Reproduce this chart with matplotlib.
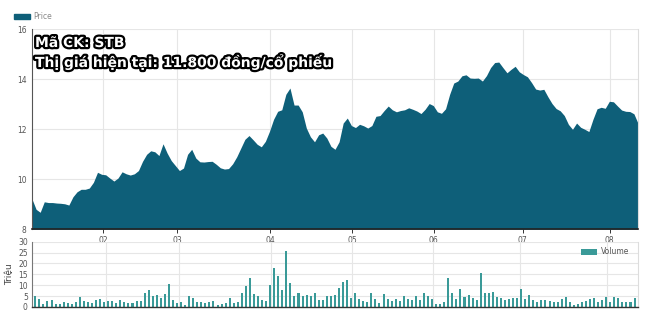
import matplotlib
matplotlib.use("Agg")
import matplotlib.pyplot as plt
import matplotlib.patheffects as pe
import numpy as np

# ---- data ----
price = [9.21, 8.8, 8.68, 9.1, 9.07, 9.07, 9.05, 9.04, 9.02, 8.97,
         9.3, 9.5, 9.6, 9.6, 9.65, 9.88, 10.28, 10.2, 10.18, 10.05,
         9.93, 10.05, 10.3, 10.22, 10.17, 10.22, 10.35, 10.72, 11.0, 11.14,
         11.1, 10.95, 11.42, 11.05, 10.75, 10.55, 10.35, 10.45, 11.0, 11.2,
         10.85, 10.7, 10.69, 10.71, 10.72, 10.6, 10.46, 10.41, 10.43, 10.62,
         10.9, 11.25, 11.6, 11.75, 11.58, 11.4, 11.3, 11.52, 11.92, 12.4,
         12.72, 12.78, 13.4, 13.65, 12.97, 12.97, 12.7, 12.05, 11.7, 11.5,
         11.78, 11.85, 11.65, 11.32, 11.2, 11.5, 12.25, 12.45, 12.15, 12.07,
         12.2, 12.14, 12.05, 12.15, 12.52, 12.55, 12.75, 12.93, 12.78, 12.7,
         12.75, 12.78, 12.86, 12.8, 12.73, 12.63, 12.8, 13.03, 12.95, 12.7,
         12.64, 12.82, 13.4, 13.85, 13.93, 14.14, 14.18, 14.05, 14.04, 14.05,
         13.93, 14.15, 14.47, 14.67, 14.69, 14.47, 14.26, 14.4, 14.52, 14.3,
         14.19, 14.1, 13.87, 13.61, 13.57, 13.6, 13.3, 13.03, 12.83, 12.74,
         12.55, 12.2, 12.0, 12.25, 12.08, 12.0, 11.91, 12.4, 12.82, 12.88,
         12.84, 13.12, 13.1, 12.93, 12.77, 12.72, 12.71, 12.62, 12.24]

volume = [5.0, 3.5, 1.4, 2.8, 3.0, 1.4, 1.4, 2.1, 2.0, 1.4,
          2.4, 4.6, 2.8, 2.1, 2.0, 3.1, 3.5, 2.4, 2.8, 2.8,
          1.8, 3.1, 2.4, 1.7, 2.0, 2.8, 2.8, 6.3, 7.7, 5.0,
          5.4, 4.0, 5.8, 10.4, 3.2, 2.0, 2.3, 0.8, 5.0, 4.3,
          2.4, 2.4, 1.7, 2.1, 2.8, 0.8, 1.2, 2.0, 4.0, 1.7,
          2.4, 6.3, 9.6, 13.5, 6.0, 5.0, 3.2, 2.9, 10.0, 18.1,
          14.2, 7.8, 25.9, 10.9, 5.0, 6.6, 5.0, 5.5, 5.0, 6.6,
          3.2, 3.2, 5.0, 5.0, 5.4, 8.6, 11.5, 12.4, 4.3, 6.6,
          3.5, 2.8, 2.4, 6.6, 3.5, 2.0, 5.8, 3.5, 2.8, 3.5,
          2.8, 5.0, 3.5, 3.1, 5.0, 3.2, 6.6, 5.0, 3.5, 1.4,
          1.4, 2.4, 13.5, 6.3, 3.5, 8.1, 4.7, 5.5, 4.0, 3.2,
          15.5, 6.6, 6.6, 7.0, 4.7, 4.0, 3.2, 3.5, 4.3, 4.3,
          8.1, 3.5, 5.4, 3.1, 2.4, 3.1, 3.1, 2.8, 2.1, 2.4,
          3.5, 4.6, 2.4, 1.1, 1.4, 2.1, 2.8, 3.5, 4.3, 2.1,
          3.2, 4.7, 2.1, 4.6, 4.0, 2.4, 2.4, 2.4, 4.0]

month_labels = ["02", "03", "04", "05", "06", "07", "08"]
month_pos = [17.4, 35.4, 58.1, 78.2, 98.1, 119.8, 141.1]   # trading-day index of month start

price_ticks = [8, 10, 12, 14, 16]
volume_ticks = [0, 5, 10, 15, 20, 25, 30]

title1 = "Mã CK: STB"
title2 = "Thị giá hiện tại: 11.800 đồng/cổ phiếu"

# ---- style ----
AREA = "#0e5f79"
BAR = "#3a9a98"
GRID = "#e6e6e6"
TXT = "#555555"

fig = plt.figure(figsize=(6.6, 3.35), dpi=100)
W, H = 660.0, 335.0

def box(l, t, r, b):
    return [l / W, 1 - b / H, (r - l) / W, (b - t) / H]

x_p = np.arange(len(price))
x_v = np.arange(len(volume))

# ---- price axes ----
ax = fig.add_axes(box(32, 29.3, 638, 229.3))
ax.fill_between(x_p, price, 8, color=AREA, lw=0, zorder=2)
ax.set_xlim(0, len(price) - 1)
ax.set_ylim(8, 16)
ax.set_yticks(price_ticks)
ax.set_yticklabels([str(t) for t in price_ticks])
ax.set_xticks(month_pos)
ax.set_xticklabels(month_labels)
ax.grid(True, color=GRID, lw=0.8, zorder=0)
ax.tick_params(axis="y", length=0, pad=4, labelsize=5.5, labelcolor=TXT)
ax.tick_params(axis="x", length=3, width=0.7, color="#333333", pad=1.5,
               labelsize=5.5, labelcolor=TXT)
ax.spines["top"].set_visible(False)
ax.spines["right"].set_color("#dddddd")
ax.spines["left"].set_color("#555555")
ax.spines["left"].set_linewidth(0.8)
ax.spines["bottom"].set_color("#222222")
ax.spines["bottom"].set_linewidth(1.2)
ax.set_axisbelow(True)

# legend "Price"
fig.patches.append(plt.Rectangle((14 / W, 1 - 19 / H), 16 / W, 5 / H,
                                 transform=fig.transFigure, color=AREA))
fig.text(33 / W, 1 - 16.5 / H, "Price", fontsize=5.5, color="#888888",
         va="center", ha="left")

# title overlay
fx = [pe.withStroke(linewidth=3.2, foreground="black")]
ax.text(35 / W, 1 - 43 / H, title1, transform=fig.transFigure, fontsize=10,
        fontweight="bold", color="white", va="center", ha="left",
        path_effects=fx, zorder=10, family="DejaVu Sans")
ax.text(35 / W, 1 - 62 / H, title2, transform=fig.transFigure, fontsize=10,
        fontweight="bold", color="white", va="center", ha="left",
        path_effects=fx, zorder=10, family="DejaVu Sans")

# ---- volume axes ----
av = fig.add_axes(box(32, 241.7, 638, 307))
av.bar(x_v, volume, width=0.5, color=BAR, zorder=2, label="Volume")
av.set_xlim(-0.82, len(volume) - 1 + 0.85)
av.set_ylim(0, 30)
av.set_yticks(volume_ticks)
av.set_yticklabels([str(t) for t in volume_ticks])
av.set_xticks(month_pos)
av.set_xticklabels([])
av.grid(True, color=GRID, lw=0.8, zorder=0)
av.set_axisbelow(True)
av.tick_params(axis="y", length=0, pad=3, labelsize=5.5, labelcolor=TXT)
av.tick_params(axis="x", length=0)
av.spines["top"].set_visible(False)
av.spines["right"].set_color("#dddddd")
av.spines["left"].set_color("#777777")
av.spines["left"].set_linewidth(0.8)
av.spines["bottom"].set_color("#333333")
av.spines["bottom"].set_linewidth(1.0)
av.set_ylabel("Triệu", fontsize=6.5, color="#444444", labelpad=3)
leg = av.legend(loc="upper right", bbox_to_anchor=(0.99, 0.96), frameon=False,
                fontsize=5.5, handlelength=2.2, handleheight=0.8,
                handletextpad=0.4, borderaxespad=0)
for t in leg.get_texts():
    t.set_color("#555555")

fig.savefig("out.png", dpi=100)
